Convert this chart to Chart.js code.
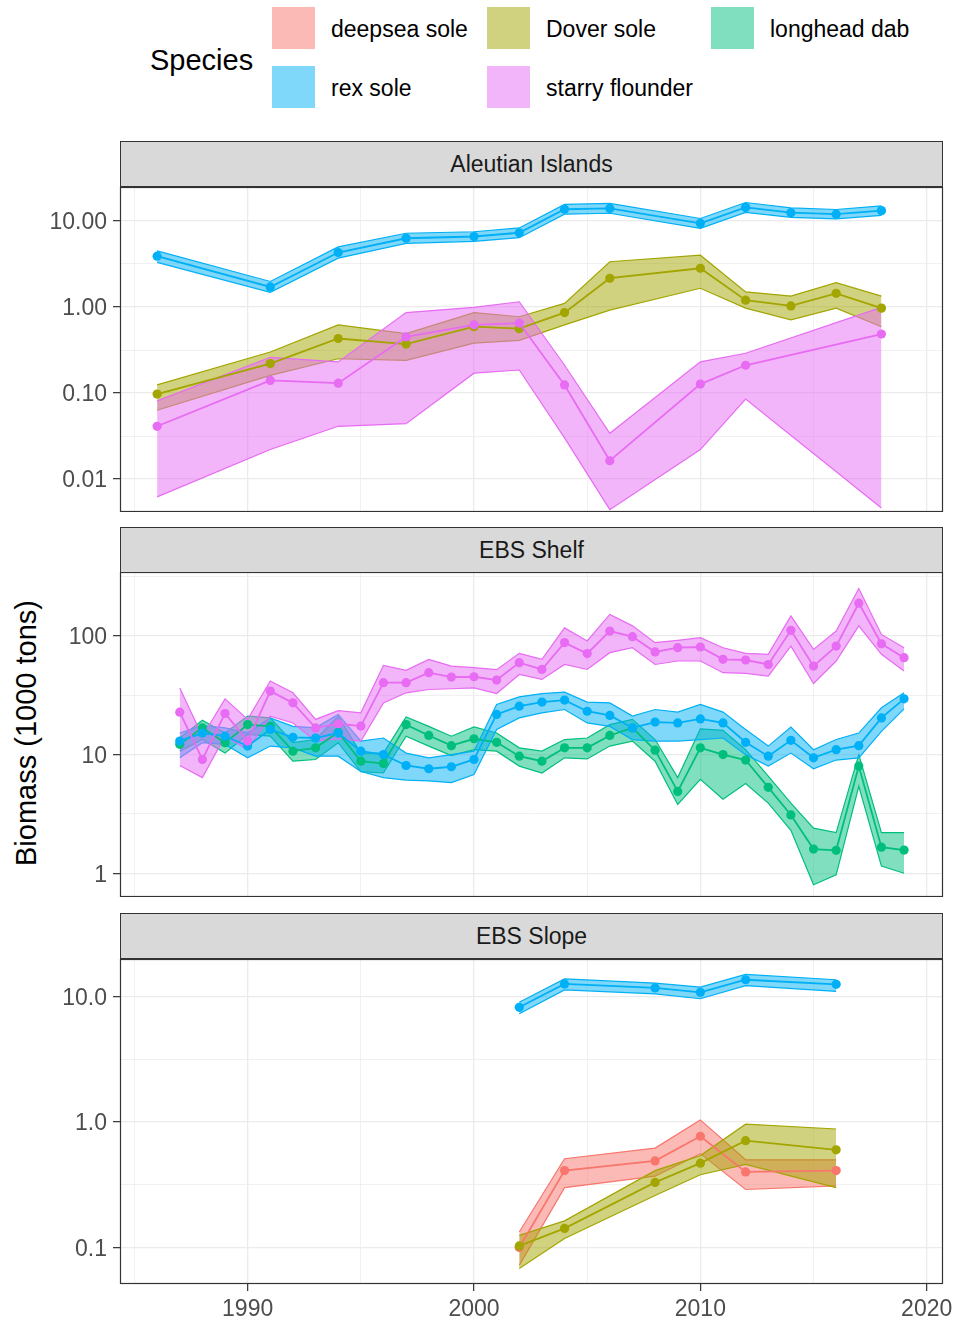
<!DOCTYPE html>
<html>
<head>
<meta charset="utf-8">
<script src="https://cdn.jsdelivr.net/npm/chart.js@4.4.1/dist/chart.umd.min.js"></script>
<style>
  body { margin: 0; background: #fff; font-family: "Liberation Sans", Arial, sans-serif; }
  #page { position: relative; width: 958px; height: 1323px; overflow: hidden; }
  canvas { position: absolute; left: 0; }
  .strip { position: absolute; left: 120px; width: 823px; height: 46px; box-sizing: border-box;
           background: #D9D9D9; border: 1px solid #333; color: #1A1A1A; font-size: 23px;
           display: flex; align-items: center; justify-content: center; }
  .key { position: absolute; width: 43px; height: 42px; }
  .klab { position: absolute; font-size: 23px; color: #000; line-height: 42px; white-space: nowrap; }
  #legtitle { position: absolute; left: 150px; top: 42px; font-size: 29px; line-height: 36px; }
  #ytitle { position: absolute; left: -174px; top: 715px; width: 400px; height: 36px; line-height: 36px;
            text-align: center; font-size: 29px; transform: rotate(-90deg); }
</style>
</head>
<body>
<div id="page">
  <div id="legtitle">Species</div>
  <div id="legend"></div>
  <div class="strip" style="top:141px">Aleutian Islands</div>
  <div class="strip" style="top:527px">EBS Shelf</div>
  <div class="strip" style="top:913px">EBS Slope</div>
  <div id="ytitle">Biomass (1000 tons)</div>
  <canvas id="ai" width="958" height="325" style="top:187px"></canvas>
  <canvas id="shelf" width="958" height="325" style="top:572px"></canvas>
  <canvas id="slope" width="958" height="364" style="top:959px"></canvas>
</div>
<script>
// species, in factor order
const speciesNames = ['deepsea sole', 'Dover sole', 'longhead dab', 'rex sole', 'starry flounder'];

// axis ticks
const xMajor = [1990, 2000, 2010, 2020];
const xMinor = [1985, 1995, 2005, 2015];
const aiTicks = [0.01, 0.1, 1, 10];
const aiTickLabels = ['0.01', '0.10', '1.00', '10.00'];
const aiMinor = [0.0316, 0.316, 3.162];
const shelfTicks = [1, 10, 100];
const shelfTickLabels = ['1', '10', '100'];
const shelfMinor = [3.162, 31.62, 316.2];
const slopeTicks = [0.1, 1, 10];
const slopeTickLabels = ['0.1', '1.0', '10.0'];
const slopeMinor = [0.316, 3.162];

// Aleutian Islands
const aiYears = [1986, 1991, 1994, 1997, 2000, 2002, 2004, 2006, 2010, 2012, 2014, 2016, 2018];
const aiDoverEst = [0.097, 0.22, 0.43, 0.37, 0.59, 0.56, 0.86, 2.16, 2.82, 1.2, 1.03, 1.44, 0.97];
const aiDoverLo  = [0.063, 0.16, 0.25, 0.24, 0.38, 0.41, 0.62, 0.92, 1.65, 0.97, 0.71, 0.97, 0.59];
const aiDoverHi  = [0.124, 0.30, 0.62, 0.49, 0.86, 0.77, 1.1, 3.36, 4.0, 1.5, 1.34, 1.92, 1.34];
const aiRexEst = [3.9, 1.71, 4.3, 6.3, 6.6, 7.3, 13.7, 14, 9.4, 14.4, 12.5, 12, 13.2];
const aiRexLo  = [3.3, 1.48, 3.7, 5.5, 5.8, 6.4, 12.0, 12.3, 8.2, 12.6, 11.0, 10.6, 11.6];
const aiRexHi  = [4.5, 1.98, 5.0, 7.2, 7.5, 8.3, 15.6, 16.0, 10.7, 16.4, 14.2, 13.6, 15.0];
const aiStarryYears = [1986, 1991, 1994, 1997, 2000, 2002, 2004, 2006, 2010, 2012, 2018];
const aiStarryEst = [0.041, 0.14, 0.13, 0.45, 0.62, 0.65, 0.124, 0.0163, 0.127, 0.21, 0.485];
const aiStarryLo  = [0.0062, 0.022, 0.041, 0.044, 0.17, 0.185, 0.03, 0.0044, 0.022, 0.085, 0.0046];
const aiStarryHi  = [0.081, 0.26, 0.23, 0.86, 0.99, 1.15, 0.21, 0.034, 0.23, 0.29, 0.99];

// EBS Shelf
const shelfYears = [1987, 1988, 1989, 1990, 1991, 1992, 1993, 1994, 1995, 1996, 1997, 1998, 1999, 2000, 2001,
  2002, 2003, 2004, 2005, 2006, 2007, 2008, 2009, 2010, 2011, 2012, 2013, 2014, 2015, 2016, 2017, 2018, 2019];
const shelfDabEst = [12.2, 16.8, 12.6, 17.9, 17.3, 10.7, 11.4, 15.4, 8.8, 8.4, 17.9, 14.5, 11.9, 13.6, 12.7,
  9.7, 8.8, 11.4, 11.4, 14.5, 16.8, 10.9, 4.9, 11.4, 10, 9.0, 5.3, 3.1, 1.6, 1.56, 8.0, 1.66, 1.57];
const shelfDabLo = [10.7, 13.4, 10.3, 14.8, 14.3, 8.8, 9.1, 12.6, 7.2, 7.0, 14.3, 11.8, 9.8, 11, 10.7,
  8.0, 7.0, 9.4, 9.2, 11.8, 13, 8.8, 3.8, 6.2, 4.2, 5.7, 3.9, 2.3, 0.8, 0.97, 5.4, 1.15, 1.0];
const shelfDabHi = [13.8, 19.5, 15.2, 21.1, 20.4, 12.6, 13.4, 21, 10.3, 10.3, 20.8, 17.3, 14.3, 17.1, 15.2,
  11.4, 10.7, 13.4, 13.8, 17.9, 19.8, 13.4, 6.4, 16.5, 16, 11, 6.6, 3.9, 2.4, 2.2, 10, 2.2, 2.2];
const shelfRexEst = [13, 15.2, 14.3, 11.8, 16.3, 14, 13.8, 15.2, 10.7, 10, 8.1, 7.6, 7.9, 9.1, 21.8,
  25.6, 27.7, 28.8, 23.2, 21.4, 16.8, 18.8, 18.5, 20, 18.5, 12.7, 9.7, 13.2, 9.4, 11, 11.9, 20.4, 29.5];
const shelfRexLo = [9.4, 12.6, 12.2, 9.4, 11.8, 11.4, 9.7, 9.7, 7.2, 6.4, 6.1, 6.0, 5.8, 6.8, 16.3,
  20.4, 22.5, 24, 18.5, 17.3, 13.4, 13, 13, 13.4, 13.8, 10, 8.0, 10.3, 7.6, 9.0, 9.4, 15.7, 24.3];
const shelfRexHi = [15.2, 17.6, 16.8, 15.2, 20.4, 17.3, 16.8, 21.8, 13, 13.8, 10.3, 9.4, 10, 10.7, 26.5,
  30.7, 32.7, 33.6, 27.7, 27.3, 21.1, 24, 22.8, 26.5, 22.8, 16.3, 11.8, 17.1, 11, 13.4, 15.2, 24.8, 33.2];
const shelfStarryEst = [22.8, 9.1, 22.2, 13, 34.3, 27.3, 16.8, 18.2, 17.4, 40.4, 40.4, 49, 45, 45.3, 42.5,
  59.6, 52.2, 87.9, 71, 110, 98.6, 73.3, 79.6, 80.7, 63.5, 62.7, 57.5, 111.6, 55.7, 82.2, 188.8, 86, 65.6];
const shelfStarryLo = [8.1, 6.4, 14.3, 11, 21.1, 18.5, 13, 13.6, 13, 27.3, 33.2, 35.4, 35.9, 36.5, 32.7,
  47.4, 43, 57.5, 52.2, 72.3, 79.6, 57.5, 61.5, 61.5, 49, 48.4, 45.9, 82.2, 39.8, 61.5, 121.6, 70, 50.6];
const shelfStarryHi = [36.5, 14.3, 29.5, 19.8, 41.7, 33.2, 19.8, 23.5, 22.5, 56.5, 51.3, 63.5, 55.7, 54, 52,
  71.4, 63.5, 117, 90.8, 152, 121.6, 87.9, 91.8, 96.8, 79.6, 71.4, 70, 147.6, 77, 110, 251, 103, 79.6];

// EBS Slope
const slopeYears = [2002, 2004, 2008, 2010, 2012, 2016];
const slopeDeepseaEst = [0.1, 0.41, 0.49, 0.77, 0.40, 0.41];
const slopeDeepseaLo  = [0.072, 0.30, 0.37, 0.56, 0.29, 0.31];
const slopeDeepseaHi  = [0.133, 0.51, 0.62, 1.04, 0.50, 0.50];
const slopeDoverEst = [0.103, 0.142, 0.33, 0.47, 0.71, 0.60];
const slopeDoverLo  = [0.068, 0.118, 0.26, 0.38, 0.46, 0.30];
const slopeDoverHi  = [0.125, 0.163, 0.41, 0.54, 0.96, 0.88];
const slopeRexEst = [8.2, 12.6, 11.7, 10.8, 13.6, 12.5];
const slopeRexLo  = [7.3, 11.3, 10.5, 9.6, 12.2, 11.0];
const slopeRexHi  = [9.0, 13.8, 12.8, 11.9, 15.0, 13.6];

// ggplot default hue palette
const palette = ['#F8766D', '#A3A500', '#00BF7D', '#00B0F6', '#E76BF3'];

function fade(hex, a) {
  const n = parseInt(hex.slice(1), 16);
  return `rgba(${(n >> 16) & 255}, ${(n >> 8) & 255}, ${n & 255}, ${a})`;
}

Chart.defaults.font.family = '"Liberation Sans", Arial, sans-serif';
Chart.defaults.animation = false;

// legend (HTML, ggplot-like layout)
const legendPos = [[272, 7], [487, 7], [711, 7], [272, 66], [487, 66]];
const legendBox = document.getElementById('legend');
speciesNames.forEach((name, i) => {
  const [x, y] = legendPos[i];
  const k = document.createElement('div');
  k.className = 'key';
  k.style.left = x + 'px';
  k.style.top = y + 'px';
  k.style.background = fade(palette[i], 0.5);
  legendBox.appendChild(k);
  const t = document.createElement('div');
  t.className = 'klab';
  t.style.left = (x + 59) + 'px';
  t.style.top = (y + 1) + 'px';
  t.textContent = name;
  legendBox.appendChild(t);
});

/**
 * Ribbon (lo/hi) plus estimate line with points for one species
 */
function speciesSets(sp, years, est, lo, hi) {
  const col = palette[sp];
  const pts = arr => years.map((x, i) => ({ x: x, y: arr[i] }));
  return [
    { data: pts(lo), borderColor: col, borderWidth: 1.2, pointRadius: 0, fill: false, order: 30 - sp },
    { data: pts(hi), borderColor: col, borderWidth: 1.2, pointRadius: 0, fill: '-1',
      backgroundColor: fade(col, 0.5), order: 30 - sp },
    { data: pts(est), borderColor: col, borderWidth: 1.8, pointRadius: 4.6, pointHoverRadius: 4.6,
      pointBackgroundColor: col, pointBorderWidth: 0, fill: false, order: 10 - sp }
  ];
}

const panelBorder = {
  id: 'panelBorder',
  afterDraw(chart) {
    const a = chart.chartArea;
    const ctx = chart.ctx;
    ctx.save();
    ctx.strokeStyle = '#333';
    ctx.lineWidth = 1.2;
    ctx.strokeRect(a.left + 0.5, a.top + 0.5, a.right - a.left - 1, a.bottom - a.top - 1);
    ctx.restore();
  }
};

function isDecade(v) {
  const l = Math.log10(v);
  return Math.abs(l - Math.round(l)) < 1e-6;
}

function makePanel(canvasId, yMin, yMax, ticks, labels, minor, datasets, showX) {
  const ctx = document.getElementById(canvasId);
  return new Chart(ctx, {
    type: 'line',
    data: { datasets: datasets },
    options: {
      responsive: false,
      layout: { autoPadding: false, padding: { left: 0, right: 15, top: 0, bottom: 0 } },
      plugins: { legend: { display: false }, tooltip: { enabled: false } },
      elements: { line: { tension: 0 } },
      scales: {
        x: {
          type: 'linear',
          min: 1984.36,
          max: 2020.72,
          border: { display: false },
          afterBuildTicks(s) {
            s.ticks = xMinor.concat(xMajor).sort((a, b) => a - b).map(v => ({ value: v }));
          },
          afterFit(s) {
            s.height = showX ? 39 : 0;
            s.paddingLeft = 0;
            s.paddingRight = 0;
          },
          grid: {
            color: '#EBEBEB',
            lineWidth: c => (c.tick && c.tick.value % 10 === 0 ? 1.3 : 0.7),
            drawTicks: showX,
            tickLength: 7,
            tickWidth: 1.2,
            tickColor: c => (c.tick && c.tick.value % 10 === 0 ? '#333' : 'rgba(0,0,0,0)')
          },
          ticks: {
            display: showX,
            autoSkip: false,
            maxRotation: 0,
            padding: 5,
            color: '#4D4D4D',
            font: { size: 23 },
            callback: v => (xMajor.includes(v) ? String(v) : '')
          }
        },
        y: {
          type: 'logarithmic',
          min: yMin,
          max: yMax,
          bounds: 'data',
          border: { display: false },
          afterBuildTicks(s) {
            s.ticks = minor.concat(ticks).sort((a, b) => a - b).map(v => ({ value: v }));
          },
          afterFit(s) {
            s.width = 120;
            s.paddingTop = 0;
            s.paddingBottom = 0;
          },
          grid: {
            color: '#EBEBEB',
            lineWidth: c => (c.tick && isDecade(c.tick.value) ? 1.3 : 0.7),
            tickLength: 7,
            tickWidth: 1.2,
            tickColor: c => (c.tick && isDecade(c.tick.value) ? '#333' : 'rgba(0,0,0,0)')
          },
          ticks: {
            autoSkip: false,
            padding: 6,
            labelOffset: 2,
            color: '#4D4D4D',
            font: { size: 23 },
            callback: v => {
              const i = ticks.findIndex(t => Math.abs(t - v) < 1e-9 * Math.max(1, t));
              return i >= 0 ? labels[i] : '';
            }
          }
        }
      }
    },
    plugins: [panelBorder]
  });
}

makePanel('ai', 0.00413, 24.85, aiTicks, aiTickLabels, aiMinor, [
  ...speciesSets(1, aiYears, aiDoverEst, aiDoverLo, aiDoverHi),
  ...speciesSets(3, aiYears, aiRexEst, aiRexLo, aiRexHi),
  ...speciesSets(4, aiStarryYears, aiStarryEst, aiStarryLo, aiStarryHi)
], false);

makePanel('shelf', 0.631, 346, shelfTicks, shelfTickLabels, shelfMinor, [
  ...speciesSets(2, shelfYears, shelfDabEst, shelfDabLo, shelfDabHi),
  ...speciesSets(3, shelfYears, shelfRexEst, shelfRexLo, shelfRexHi),
  ...speciesSets(4, shelfYears, shelfStarryEst, shelfStarryLo, shelfStarryHi)
], false);

makePanel('slope', 0.0512, 19.9, slopeTicks, slopeTickLabels, slopeMinor, [
  ...speciesSets(0, slopeYears, slopeDeepseaEst, slopeDeepseaLo, slopeDeepseaHi),
  ...speciesSets(1, slopeYears, slopeDoverEst, slopeDoverLo, slopeDoverHi),
  ...speciesSets(3, slopeYears, slopeRexEst, slopeRexLo, slopeRexHi)
], true);
</script>
</body>
</html>
